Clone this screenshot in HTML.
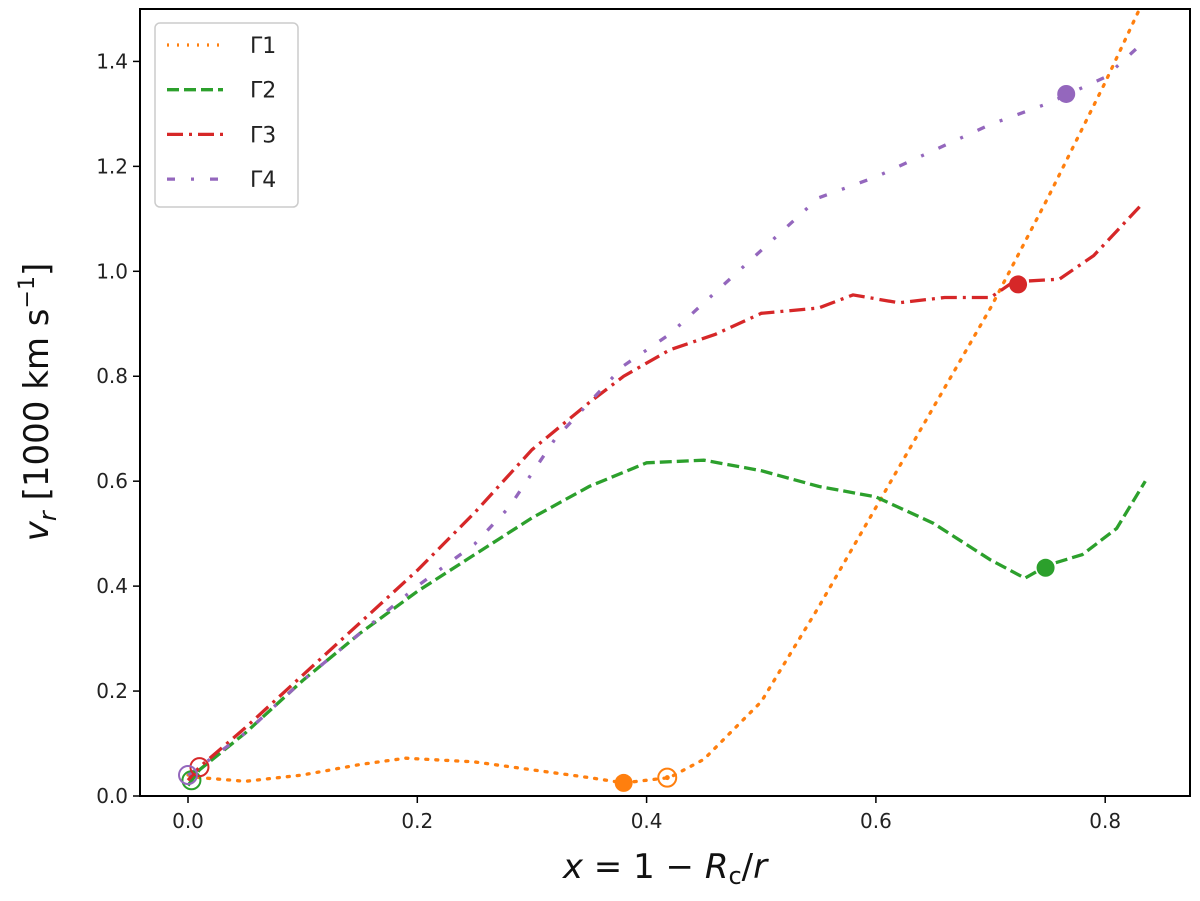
<!DOCTYPE html>
<html><head><meta charset="utf-8"><style>body{margin:0;background:#fff}svg{display:block}</style></head>
<body>
<svg width="1200" height="901" font-family="'DejaVu Sans','Liberation Sans',sans-serif">
<g id="plot"></g>
</svg>
<script>
const xTicks=[0.0,0.2,0.4,0.6,0.8];
const yTicks=[0.0,0.2,0.4,0.6,0.8,1.0,1.2,1.4];
const g1x=[0,0.01,0.05,0.1,0.15,0.19,0.25,0.3,0.35,0.38,0.42,0.45,0.5,0.55,0.6,0.65,0.7,0.75,0.8,0.83];
const g1y=[0.04,0.035,0.028,0.04,0.06,0.072,0.065,0.05,0.035,0.025,0.035,0.07,0.18,0.36,0.55,0.74,0.93,1.14,1.36,1.5];
const g2x=[0,0.01,0.05,0.1,0.15,0.2,0.25,0.3,0.35,0.4,0.45,0.5,0.55,0.6,0.65,0.7,0.73,0.75,0.78,0.81,0.835];
const g2y=[0.02,0.05,0.12,0.22,0.31,0.39,0.46,0.53,0.59,0.635,0.64,0.62,0.59,0.57,0.52,0.45,0.415,0.44,0.46,0.51,0.6];
const g3x=[0,0.01,0.05,0.1,0.15,0.2,0.25,0.3,0.35,0.38,0.42,0.46,0.5,0.55,0.58,0.62,0.66,0.7,0.72,0.76,0.79,0.83];
const g3y=[0.03,0.055,0.13,0.23,0.33,0.43,0.54,0.66,0.75,0.80,0.85,0.88,0.92,0.93,0.955,0.94,0.95,0.95,0.98,0.985,1.03,1.123];
const g4x=[0,0.01,0.05,0.1,0.15,0.2,0.25,0.28,0.32,0.38,0.42,0.46,0.5,0.55,0.6,0.65,0.7,0.75,0.8,0.83];
const g4y=[0.04,0.055,0.12,0.22,0.31,0.40,0.48,0.55,0.68,0.82,0.88,0.96,1.04,1.14,1.18,1.23,1.28,1.32,1.37,1.43];
const dotX=[0.38,0.748,0.724,0.766];
const dotY=[0.025,0.435,0.975,1.338];
const openX=[0.418,0.003,0.01,0.0];
const openY=[0.035,0.03,0.055,0.04];
const colors=['#ff7f0e','#2ca02c','#d62728','#9467bd'];
const dashes=['2,8','12,5','16,6,3,6','8,16,3,16'];
const names=['Γ1','Γ2','Γ3','Γ4'];
const L=140,R=1190,T=9,B=796;
const X=v=>188+v*1146.5;
const Y=v=>796-v*524.7;
const NS='http://www.w3.org/2000/svg';
const svg=document.querySelector('svg');
function mk(tag,at,parent){const e=document.createElementNS(NS,tag);for(const k in at)e.setAttribute(k,at[k]);(parent||svg).appendChild(e);return e;}
const clip=mk('clipPath',{id:'c'});mk('rect',{x:L,y:T,width:R-L,height:B-T},clip);
xTicks.forEach(t=>{
 const l=mk('line',{x1:X(t),x2:X(t),y1:B,y2:B+7,stroke:'#000','stroke-width':1.5});
 
 
 const tx=mk('text',{x:X(t),y:B+32,'font-size':20,'text-anchor':'middle',fill:'#222'});tx.textContent=t.toFixed(1);
 
 
});
yTicks.forEach(t=>{
 const l=mk('line',{x1:L-7,x2:L,y1:Y(t),y2:Y(t),stroke:'#000','stroke-width':1.5});
 
 
 const tx=mk('text',{x:L-12,y:Y(t)+7,'font-size':20,'text-anchor':'end',fill:'#222'});tx.textContent=t.toFixed(1);
 
 
});
const series=[[g1x,g1y],[g2x,g2y],[g3x,g3y],[g4x,g4y]];
const gp=mk('g',{'clip-path':'url(#c)'});
series.forEach((s,i)=>{
 const d=s[0].map((x,j)=>(j?'L':'M')+X(x).toFixed(1)+','+Y(s[1][j]).toFixed(1)).join('');
 const p=mk('path',{d,fill:'none',stroke:colors[i],'stroke-width':3.3,'stroke-dasharray':dashes[i],'stroke-linecap':i==0?'round':'butt'},gp);
 
 
});
openX.forEach((x,i)=>{
 const c=mk('circle',{cx:X(x),cy:Y(openY[i]),r:9,fill:'none',stroke:colors[i],'stroke-width':2},gp);
 
 
});
const inner=mk('circle',{cx:X(openX[0]),cy:Y(openY[0]),r:2.5,fill:colors[0]},gp);


dotX.forEach((x,i)=>{
 const c=mk('circle',{cx:X(x),cy:Y(dotY[i]),r:9,fill:colors[i]},gp);
 
 
});
const fr=mk('rect',{x:L,y:T,width:R-L,height:B-T,fill:'none',stroke:'#000','stroke-width':2});


const lg=mk('g',{});


mk('rect',{x:155,y:23,width:143,height:184,rx:5,fill:'#fff','fill-opacity':0.8,stroke:'#ccc','stroke-width':1.5},lg);
names.forEach((n,i)=>{
 const y=45+i*44.7;
 const l=mk('line',{x1:167,x2:223,y1:y,y2:y,stroke:colors[i],'stroke-width':3.3,'stroke-dasharray':dashes[i]},lg);
 
 
 const t=mk('text',{x:250,y:y+8,'font-size':22,fill:'#222'},lg);t.textContent=n;
 
 
});
const xt=mk('text',{x:665,y:878,'font-size':34,'text-anchor':'middle',fill:'#111'});
xt.innerHTML='<tspan font-style="italic">x</tspan> = 1 − <tspan font-style="italic">R</tspan><tspan font-size="24" dy="6">c</tspan><tspan dy="-6">/</tspan><tspan font-style="italic">r</tspan>';


const yt=mk('text',{x:0,y:0,'font-size':34,'text-anchor':'middle',fill:'#111',transform:'translate(48,402) rotate(-90)'});
yt.innerHTML='<tspan font-style="italic">v</tspan><tspan font-size="24" dy="8" font-style="italic">r</tspan><tspan dy="-8"> [1000 km s</tspan><tspan font-size="22" dy="-14">−1</tspan><tspan dy="14">]</tspan>';


</script>
</body></html>
